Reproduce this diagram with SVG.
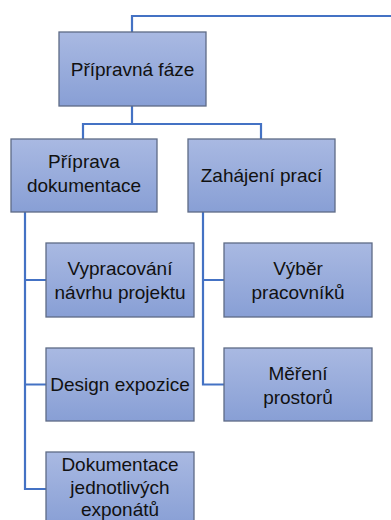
<svg xmlns="http://www.w3.org/2000/svg" width="391" height="520" viewBox="0 0 391 520">
<defs>
<linearGradient id="g" x1="0" y1="0" x2="0" y2="1">
<stop offset="0" stop-color="#A9B9E2"/>
<stop offset="1" stop-color="#889FD5"/>
</linearGradient>
<style>
.box{fill:url(#g);stroke:#5E6B86;stroke-width:1.3}
.t{font-family:"Liberation Sans",Arial,sans-serif;font-size:19px;fill:#111;text-anchor:middle}
.c{fill:none;stroke:#4472C4;stroke-width:2.2}
</style>
</defs>
<rect width="391" height="520" fill="#fff"/>
<g id="connectors">
<path class="c" d="M132,32 V16 H391"/>
<path class="c" d="M132,106 V124 M83,139 V124 H261 V139"/>
<path class="c" d="M25,212 V489 H46 M25,280 H46 M25,384.5 H46"/>
<path class="c" d="M203,212 V384.5 H224 M203,280 H224"/>
</g>
<g id="n_pripravna">
<rect class="box" x="59" y="32" width="147" height="74"/>
<text class="t" x="132.5" y="76">Přípravná fáze</text>
</g>
<g id="n_priprava_dok">
<rect class="box" x="11" y="139" width="146" height="73"/>
<text class="t" x="84" y="168">Příprava</text>
<text class="t" x="84" y="192">dokumentace</text>
</g>
<g id="n_zahajeni">
<rect class="box" x="188" y="139" width="147" height="73"/>
<text class="t" x="261.5" y="182">Zahájení prací</text>
</g>
<g id="n_vypracovani">
<rect class="box" x="46" y="243" width="148" height="74"/>
<text class="t" x="120" y="275">Vypracování</text>
<text class="t" x="120" y="299">návrhu projektu</text>
</g>
<g id="n_design">
<rect class="box" x="46" y="348" width="148" height="73"/>
<text class="t" x="120" y="391">Design expozice</text>
</g>
<g id="n_dokumentace">
<rect class="box" x="46" y="452" width="148" height="74"/>
<text class="t" x="120" y="471">Dokumentace</text>
<text class="t" x="120" y="494">jednotlivých</text>
<text class="t" x="120" y="516">exponátů</text>
</g>
<g id="n_vyber">
<rect class="box" x="224" y="243" width="148" height="74"/>
<text class="t" x="298" y="275">Výběr</text>
<text class="t" x="298" y="299">pracovníků</text>
</g>
<g id="n_mereni">
<rect class="box" x="224" y="348" width="148" height="73"/>
<text class="t" x="298" y="380">Měření</text>
<text class="t" x="298" y="404">prostorů</text>
</g>
</svg>
